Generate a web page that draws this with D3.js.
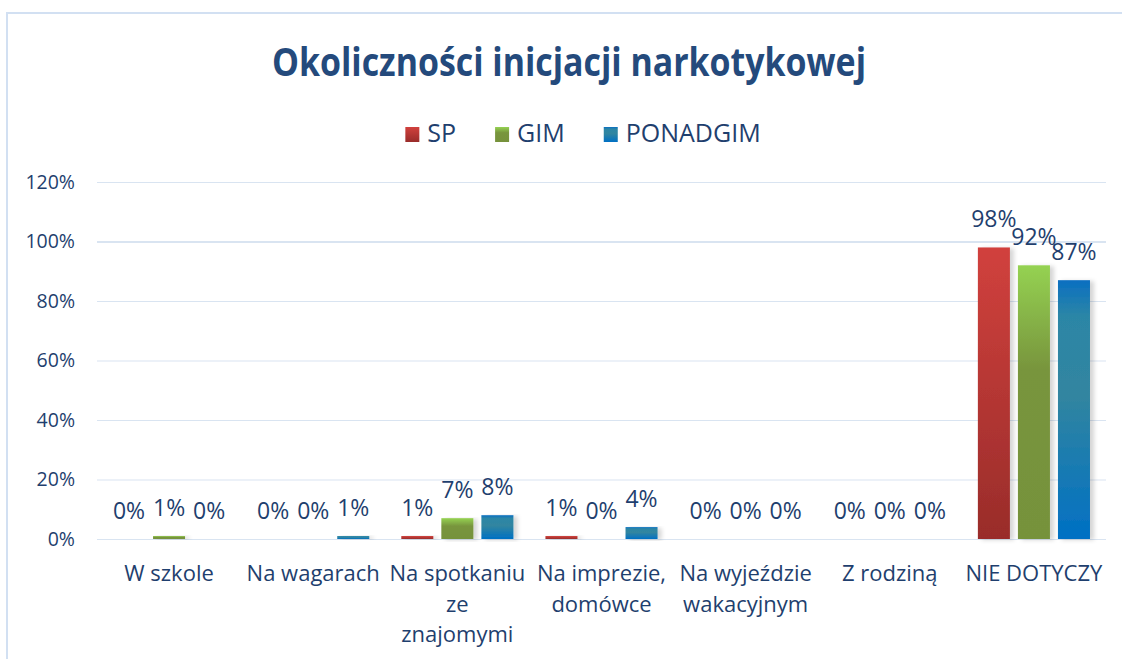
<!DOCTYPE html>
<html lang="pl">
<head>
<meta charset="utf-8">
<title>Okoliczności inicjacji narkotykowej</title>
<script src="https://cdn.jsdelivr.net/npm/d3@7/dist/d3.min.js"></script>
<style>
  html, body { margin: 0; padding: 0; background: #ffffff; }
  svg { display: block; }
  text { font-family: "Open Sans", "Noto Sans", sans-serif; }
</style>
</head>
<body>
<svg id="chart" width="1122" height="659"></svg>
<script>
// ---- data ----
const categories = [
  "W szkole",
  "Na wagarach",
  "Na spotkaniu ze znajomymi",
  "Na imprezie, domówce",
  "Na wyjeździe wakacyjnym",
  "Z rodziną",
  "NIE DOTYCZY"
];
const seriesNames = ["SP", "GIM", "PONADGIM"];
const spValues       = [0, 0, 1, 1, 0, 0, 98];
const gimValues      = [1, 0, 7, 0, 0, 0, 92];
const ponadgimValues = [0, 1, 8, 4, 0, 0, 87];
const yTickValues = [0, 20, 40, 60, 80, 100, 120];
const titleText = "Okoliczności inicjacji narkotykowej";

const seriesValues = [spValues, gimValues, ponadgimValues];

// ---- layout ----
const W = 1122, H = 659;
const plot = { left: 97, right: 1106, top: 182, bottom: 539 };
const textColor = "#1f3f6e";
const gridColor = "#d9e4f1";

const svg = d3.select("#chart");
const defs = svg.append("defs");

// bar fills (vertical gradients)
const gradients = [
  { id: "g-sp", stops: [[0, "#d1413d"], [1, "#992c2a"]] },
  { id: "g-gim", stops: [[0, "#95d252"], [0.38, "#78953d"], [1, "#76923b"]] },
  { id: "g-pon", stops: [[0, "#0a6fc1"], [0.14, "#2c86a6"], [0.45, "#3185a0"], [1, "#0070c4"]] }
];
gradients.forEach(g => {
  const lg = defs.append("linearGradient")
    .attr("id", g.id).attr("x1", 0).attr("y1", 0).attr("x2", 0).attr("y2", 1);
  g.stops.forEach(([o, c]) => lg.append("stop").attr("offset", o).attr("stop-color", c));
});

const shadow = defs.append("filter").attr("id", "bar-shadow")
  .attr("x", "-20%").attr("y", "-5%").attr("width", "150%").attr("height", "115%");
shadow.append("feDropShadow")
  .attr("dx", 4).attr("dy", 1).attr("stdDeviation", 2.2)
  .attr("flood-color", "#000").attr("flood-opacity", 0.16);

// chart frame
svg.append("line").attr("x1", 6).attr("x2", W).attr("y1", 13).attr("y2", 13)
  .attr("stroke", "#d2e0f2").attr("stroke-width", 2);
svg.append("line").attr("x1", 7).attr("x2", 7).attr("y1", 12).attr("y2", H)
  .attr("stroke", "#d2e0f2").attr("stroke-width", 2);

// title
svg.append("text")
  .attr("x", 569).attr("y", 76)
  .attr("text-anchor", "middle")
  .attr("font-size", 40).attr("font-weight", 700)
  .attr("fill", "#244a7c")
  .attr("textLength", 594).attr("lengthAdjust", "spacingAndGlyphs")
  .text(titleText);

// scales
const x0 = d3.scaleBand().domain(categories).range([plot.left, plot.right]).padding(0);
const barW = x0.step() / 4.5;
const barGap = barW / 4;
const groupOffset = (x0.step() - (3 * barW + 2 * barGap)) / 2;
const x1 = d3.scaleOrdinal().domain(seriesNames)
  .range(seriesNames.map((_, i) => groupOffset + i * (barW + barGap)));
const y = d3.scaleLinear().domain([0, 120]).range([plot.bottom, plot.top]);

// y axis with gridlines
const yAxis = svg.append("g")
  .attr("transform", `translate(${plot.left},0)`)
  .call(d3.axisLeft(y).tickValues(yTickValues)
    .tickSize(-(plot.right - plot.left)).tickPadding(22)
    .tickFormat(d => d + "%"));
yAxis.select(".domain").remove();
yAxis.selectAll(".tick line")
  .attr("stroke", gridColor)
  .attr("stroke-width", d => d === 100 ? 2 : 1.2);
yAxis.selectAll(".tick text")
  .attr("fill", textColor).attr("font-size", 19.5)
  .attr("font-family", "'Open Sans', sans-serif");

// bars
const rows = categories.map((c, i) => ({
  category: c,
  values: seriesNames.map((s, k) => ({ series: s, k, value: seriesValues[k][i] }))
}));
const fillFor = k => `url(#${gradients[k].id})`;

const groups = svg.append("g").selectAll("g.group")
  .data(rows).join("g")
  .attr("class", "group")
  .attr("transform", d => `translate(${x0(d.category)},0)`);

groups.selectAll("rect")
  .data(d => d.values).join("rect")
  .attr("x", d => x1(d.series))
  .attr("width", barW)
  .attr("y", d => y(d.value))
  .attr("height", d => y(0) - y(d.value))
  .attr("fill", d => fillFor(d.k))
  .attr("filter", "url(#bar-shadow)");

// value labels
groups.selectAll("text.val")
  .data(d => d.values).join("text")
  .attr("class", "val")
  .attr("x", d => x1(d.series) + barW / 2)
  .attr("y", d => y(d.value) - 20)
  .attr("text-anchor", "middle")
  .attr("font-size", 23)
  .attr("fill", textColor)
  .text(d => d.value + "%");

// category labels, wrapped to fit under each group
const xLabels = svg.append("g").selectAll("text")
  .data(categories).join("text")
  .attr("x", d => x0(d) + x0.step() / 2)
  .attr("y", 581)
  .attr("text-anchor", "middle")
  .attr("font-size", 22)
  .attr("fill", textColor);

const lineStep = 30.5;
const wrapWidth = x0.step() - 7;
xLabels.each(function (d) {
  const el = d3.select(this);
  const cx = +el.attr("x");
  const words = d.split(" ");
  const lines = [];
  let current = [];
  const probe = el.append("tspan");
  words.forEach(w => {
    const trial = current.concat(w).join(" ");
    probe.text(trial);
    if (current.length && probe.node().getComputedTextLength() > wrapWidth) {
      lines.push(current.join(" "));
      current = [w];
    } else {
      current.push(w);
    }
  });
  lines.push(current.join(" "));
  probe.remove();
  lines.forEach((ln, i) => {
    el.append("tspan").attr("x", cx).attr("dy", i === 0 ? 0 : lineStep).text(ln);
  });
});

// legend
const legendItems = seriesNames.map((s, k) => ({ name: s, k }));
const legend = svg.append("g");
const legendFont = 25;
const sw = 14, swGap = 8, itemGap = 39;
const tmp = legend.append("text").attr("font-size", legendFont);
const widths = legendItems.map(d => { tmp.text(d.name); return tmp.node().getComputedTextLength(); });
tmp.remove();
const totalW = d3.sum(widths) + legendItems.length * (sw + swGap) + (legendItems.length - 1) * itemGap;
let cursor = 583 - totalW / 2;
const legendX = legendItems.map((d, i) => { const v = cursor; cursor += sw + swGap + widths[i] + itemGap; return v; });

const li = legend.selectAll("g").data(legendItems).join("g")
  .attr("transform", (d, i) => `translate(${legendX[i]},0)`);
li.append("rect")
  .attr("x", 0).attr("y", 127).attr("width", sw).attr("height", 15)
  .attr("fill", d => fillFor(d.k));
li.append("text")
  .attr("x", sw + swGap).attr("y", 142)
  .attr("font-size", legendFont)
  .attr("fill", textColor)
  .text(d => d.name);
</script>
</body>
</html>
